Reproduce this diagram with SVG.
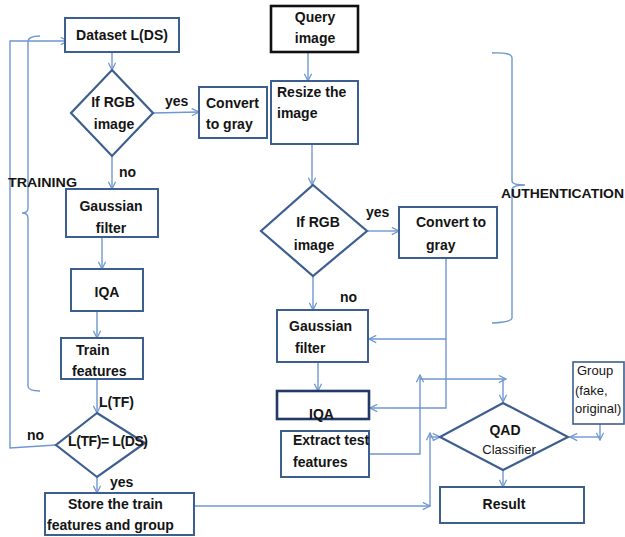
<svg xmlns="http://www.w3.org/2000/svg" width="625" height="537" viewBox="0 0 625 537">
  <defs>
    <style>
      .box { fill: #ffffff; stroke: #3d5f8f; stroke-width: 2; }
      .box-dark { fill: #ffffff; stroke: #1f3a66; stroke-width: 2.6; }
      .box-black { fill: #ffffff; stroke: #111111; stroke-width: 2.6; }
      .box-thin { fill: #ffffff; stroke: #3d5f8f; stroke-width: 1.6; }
      .dia { fill: #ffffff; stroke: #3d5f8f; stroke-width: 2.2; }
      .conn { fill: none; stroke: #6f97d2; stroke-width: 1.4; }
      .brace { fill: none; stroke: #6f97d2; stroke-width: 1.4; }
      text { font-family: "Liberation Sans", Arial, sans-serif; fill: #141414; }
      .b { font-size: 14px; font-weight: bold; }
      .n { font-size: 13px; }
      .lbl { font-size: 13px; font-weight: bold; }
      .c { text-anchor: middle; }
    </style>
    <marker id="arr" viewBox="0 0 10 10" refX="9" refY="5" markerWidth="9" markerHeight="9" markerUnits="userSpaceOnUse" orient="auto">
      <path d="M1,1 L9,5 L1,9" fill="none" stroke="#6f97d2" stroke-width="1.4"/>
    </marker>
  </defs>

  <!-- connectors -->
  <g id="connectors">
    <path class="conn" d="M112,52 V70" marker-end="url(#arr)"/>
    <path class="conn" d="M153,113 L199,112" marker-end="url(#arr)"/>
    <path class="conn" d="M112,156 V189" marker-end="url(#arr)"/>
    <path class="conn" d="M102,237 V269" marker-end="url(#arr)"/>
    <path class="conn" d="M97,311 V338" marker-end="url(#arr)"/>
    <path class="conn" d="M97,379 V413" marker-end="url(#arr)"/>
    <path class="conn" d="M97,477 V493" marker-end="url(#arr)"/>
    <path class="conn" d="M56,445 L10,448 V41 H68" marker-end="url(#arr)"/>
    <path class="conn" d="M308,52 V81" marker-end="url(#arr)"/>
    <path class="conn" d="M312,144 V185" marker-end="url(#arr)"/>
    <path class="conn" d="M368,231 H399" marker-end="url(#arr)"/>
    <path class="conn" d="M313,276 V310" marker-end="url(#arr)"/>
    <path class="conn" d="M446,258 V408 H370" marker-end="url(#arr)"/>
    <path class="conn" d="M446,339 H369" marker-end="url(#arr)"/>
    <path class="conn" d="M318,362 V391" marker-end="url(#arr)"/>
    <path class="conn" d="M369,454 H420 V375" marker-end="url(#arr)"/>
    <path class="conn" d="M420,379 H506" marker-end="url(#arr)"/>
    <path class="conn" d="M503,379 V402" marker-end="url(#arr)"/>
    <path class="conn" d="M194,506 H430" marker-end="url(#arr)"/>
    <path class="conn" d="M430,506 V433" marker-end="url(#arr)"/>
    <path class="conn" d="M430,437 H440" marker-end="url(#arr)"/>
    <path class="conn" d="M503,470 V487" marker-end="url(#arr)"/>
    <path class="conn" d="M600,424 V440" marker-end="url(#arr)"/>
    <path class="conn" d="M600,437 H570" marker-end="url(#arr)"/>
  </g>

  <!-- section braces -->
  <g id="training-brace">
    <path class="brace" d="M40,36 Q28,36 28,42 V208 Q28,213 22,213 Q28,213 28,218 V386 Q28,391 40,391"/>
    <text class="lbl" x="8" y="187" textLength="69" lengthAdjust="spacingAndGlyphs">TRAINING</text>
  </g>
  <g id="authentication-brace">
    <path class="brace" d="M492,53 Q512,52 512,58 V181 Q512,185 525,185 Q512,185 512,190 V318 Q512,322 492,323"/>
    <text class="lbl" x="501" y="198" textLength="123" lengthAdjust="spacingAndGlyphs">AUTHENTICATION</text>
  </g>

  <!-- training branch -->
  <g id="dataset">
    <rect class="box" x="65" y="18" width="114" height="34"/>
    <text class="b c" x="122" y="40">Dataset L(DS)</text>
  </g>
  <g id="rgb-check-train">
    <polygon class="dia" points="112,70 153,113 112,156 71,113"/>
    <text class="b c" x="113" y="107">If RGB</text>
    <text class="b c" x="114" y="129">image</text>
    <text class="b" x="165" y="106">yes</text>
    <text class="b" x="119" y="177">no</text>
  </g>
  <g id="convert-train">
    <rect class="box" x="199" y="87" width="68" height="51"/>
    <text class="b" x="206" y="108">Convert</text>
    <text class="b" x="206" y="129">to gray</text>
  </g>
  <g id="gaussian-train">
    <rect class="box" x="66" y="189" width="92" height="48"/>
    <text class="b c" x="111" y="211">Gaussian</text>
    <text class="b c" x="111" y="233">filter</text>
  </g>
  <g id="iqa-train">
    <rect class="box" x="71" y="269" width="72" height="42"/>
    <text class="b c" x="107" y="297">IQA</text>
  </g>
  <g id="train-features">
    <rect class="box" x="61" y="338" width="82" height="41"/>
    <text class="b" x="76" y="355">Train</text>
    <text class="b" x="72" y="376">features</text>
    <text class="b" x="99" y="407">L(TF)</text>
  </g>
  <g id="count-check">
    <polygon class="dia" points="97,413 145,443 97,477 56,445"/>
    <text class="b" x="68" y="446" font-size="13.5" textLength="80">L(TF)= L(DS)</text>
    <text class="b" x="27" y="440">no</text>
    <text class="b" x="110" y="487">yes</text>
  </g>
  <g id="store">
    <rect class="box" x="45" y="493" width="149" height="42"/>
    <text class="b" x="68" y="509">Store the train</text>
    <text class="b" x="47" y="530">features and group</text>
  </g>

  <!-- authentication branch -->
  <g id="query">
    <rect class="box-black" x="271" y="6" width="87" height="46"/>
    <text class="b c" x="315" y="22">Query</text>
    <text class="b c" x="315" y="43">image</text>
  </g>
  <g id="resize">
    <rect class="box" x="271" y="81" width="87" height="63"/>
    <text class="b" x="277" y="97">Resize the</text>
    <text class="b" x="277" y="118">image</text>
  </g>
  <g id="rgb-check-auth">
    <polygon class="dia" points="313,185 367,231 313,276 261,231"/>
    <text class="b c" x="318" y="227">If RGB</text>
    <text class="b c" x="314" y="250">image</text>
    <text class="b" x="366" y="217">yes</text>
    <text class="b" x="340" y="302">no</text>
  </g>
  <g id="convert-auth">
    <rect class="box" x="399" y="207" width="98" height="51"/>
    <text class="b" x="416" y="227">Convert to</text>
    <text class="b" x="426" y="250">gray</text>
  </g>
  <g id="gaussian-auth">
    <rect class="box" x="277" y="310" width="91" height="52"/>
    <text class="b" x="289" y="331">Gaussian</text>
    <text class="b" x="295" y="353">filter</text>
  </g>
  <g id="iqa-auth">
    <rect class="box-dark" x="277" y="391" width="92" height="28"/>
    <text class="b" x="309" y="419">IQA</text>
  </g>
  <g id="extract">
    <rect class="box" x="281" y="431" width="88" height="46"/>
    <text class="b" x="293" y="445">Extract test</text>
    <text class="b" x="293" y="467">features</text>
  </g>
  <g id="group-labels">
    <rect class="box-thin" x="573" y="362" width="51" height="62"/>
    <text class="n" x="577" y="375">Group</text>
    <text class="n" x="575" y="395">(fake,</text>
    <text class="n" x="575" y="413">original)</text>
  </g>
  <g id="qad">
    <polygon class="dia" points="503,403 568,437 503,470 440,437"/>
    <text class="b c" x="505" y="435">QAD</text>
    <text class="n c" x="509" y="454">Classifier</text>
  </g>
  <g id="result">
    <rect class="box" x="440" y="487" width="144" height="36"/>
    <text class="b c" x="504" y="509">Result</text>
  </g>
</svg>
